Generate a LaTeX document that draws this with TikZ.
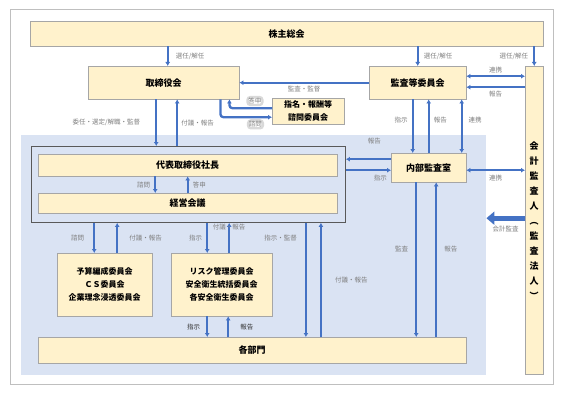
\documentclass[tikz,border=0pt]{standalone}
\usepackage{fontspec}
\setmainfont{Noto Sans CJK JP}
\usepackage{xcolor}
\usetikzlibrary{arrows.meta, calc}
\definecolor{boxfill}{HTML}{FFF2CC}
\definecolor{boxline}{HTML}{A6A6A6}
\definecolor{bluearea}{HTML}{DAE3F3}
\definecolor{arrowblue}{HTML}{4472C4}
\definecolor{labelgray}{HTML}{7F7F7F}

\begin{document}
\begin{tikzpicture}[x = 1pt, y = -1pt]
  \tikzset{>={Latex[length=4pt, width=5pt]},
    box/.style = {draw = boxline, fill = boxfill, anchor = north west, inner sep = 0pt, align = center, font = \fontsize{9}{13}\selectfont\bfseries},
    cbox/.style = {box, font = \fontsize{8}{13}\selectfont\bfseries},
    arr/.style = {->, draw = arrowblue, line width = 2.3pt},
    dbl/.style = {<->, draw = arrowblue, line width = 1.8pt},
    lbl/.style = {text = labelgray, inner sep = 1pt, font = \fontsize{6.5}{8}\selectfont},
    dlbl/.style = {lbl, text = black!80}
  }
  \useasboundingbox (0,0) rectangle (565,396);
  \draw[gray!50, line width = 1pt] (10,10) rectangle (553,384);
  \node[fill = bluearea, anchor = north west, inner sep = 0pt, minimum width = 465, minimum height = 240] (area) at (21,135) {};
  \node[draw = black!65, line width = 0.9pt, anchor = north west, inner sep = 0pt, minimum width = 314, minimum height = 76] (frame) at (31,146) {};

  \node[box, minimum width = 513, minimum height = 25] (kabu) at (30,21) {株主総会};
  \node[box, minimum width = 151, minimum height = 33] (tori) at (88,66) {取締役会};
  \node[box, minimum width = 97, minimum height = 33] (kansa) at (369,66) {監査等委員会};
  \node[cbox, minimum width = 72, minimum height = 26] (shimei) at (272,98) {指名・報酬等\\諮問委員会};
  \node[box, minimum width = 18, minimum height = 308, font = \fontsize{9}{15}\selectfont\bfseries] (kaikei) at (525,66) {会\\計\\監\\査\\人\\︵\\監\\査\\法\\人\\︶};
  \node[box, minimum width = 299, minimum height = 22] (shacho) at (38,154) {代表取締役社長};
  \node[box, minimum width = 299, minimum height = 20] (keiei) at (38,193) {経営会議};
  \node[box, minimum width = 75, minimum height = 29] (naibu) at (391,153) {内部監査室};
  \node[cbox, minimum width = 95, minimum height = 63] (yosan) at (57,253) {予算編成委員会\\ＣＳ委員会\\企業理念浸透委員会};
  \node[cbox, minimum width = 101, minimum height = 63] (risk) at (171,253) {リスク管理委員会\\安全衛生統括委員会\\各安全衛生委員会};
  \node[box, minimum width = 428, minimum height = 26] (bumon) at (38,337) {各部門};

  % shareholders
  \draw[arr] ([xshift=4]tori.north |- kabu.south) -- ([xshift=4]tori.north) node[lbl, midway, right=6pt] (l1) {選任/解任};
  \draw[arr] (kansa.north |- kabu.south) -- (kansa.north) node[lbl, midway, right=4pt] (l2) {選任/解任};
  \draw[arr] (kaikei.north |- kabu.south) -- (kaikei.north) node[lbl, midway, left=4pt] (l3) {選任/解任};

  % audit committee
  \draw[arr] (kansa.west) -- (kansa.west -| tori.east) node[lbl, midway, below=1pt] (l4) {監査・監督};
  \draw[dbl] ([yshift=6.5]kansa.east) -- ([yshift=6.5]kansa.east -| kaikei.west) node[lbl, midway, above=1pt] (l5) {連携};
  \draw[arr] ([yshift=-4.5]kansa.east -| kaikei.west) -- ([yshift=-4.5]kansa.east) node[lbl, midway, below=2pt] (l6) {報告};
  \draw[arr] ([xshift=-16]naibu.north |- kansa.south) -- ([xshift=-16]naibu.north) node[lbl, pos=0.38, left=3pt] (l7) {指示};
  \draw[arr] (naibu.north) -- (naibu.north |- kansa.south) node[lbl, pos=0.62, right=3pt] (l8) {報告};
  \draw[dbl] ([xshift=33]naibu.north |- kansa.south) -- ([xshift=33]naibu.north) node[lbl, pos=0.38, right=5pt] (l9) {連携};

  % board
  \draw[arr, rounded corners = 3pt] ([yshift=3]shimei.west) -| ([xshift=-10]tori.south east) node[lbl, pos=0.2, above=2pt, draw = gray!30, fill = white] (l10) {答申};
  \draw[arr, rounded corners = 3pt] ([xshift=-19]tori.south east) |- ([yshift=-6]shimei.west) node[lbl, pos=0.84, below=2pt, draw = gray!30, fill = white] (l11) {諮問};
  \draw[arr] ([xshift=-7.5]tori.south) -- ([xshift=-7.5]tori.south |- frame.north) node[lbl, midway, left=14pt] (l12) {委任・選定/解職・監督};
  \draw[arr] ([xshift=13.5]tori.south |- frame.north) -- ([xshift=13.5]tori.south) node[lbl, midway, right=2pt] (l13) {付議・報告};
  \draw[arr] ([xshift=-32.5]shacho.south) -- ([xshift=-32.5]shacho.south |- keiei.north) node[lbl, midway, left=3pt] (l14) {諮問};
  \draw[arr] (keiei.north -| shacho.south) -- (shacho.south) node[lbl, midway, right=3pt] (l15) {答申};

  % internal audit
  \draw[arr] ([yshift=8.5]naibu.west) -- ([yshift=8.5]naibu.west -| frame.east) node[lbl, midway, above=13pt, xshift=6pt] (l16) {報告};
  \draw[arr] ([yshift=-2.5]naibu.west -| frame.east) -- ([yshift=-2.5]naibu.west) node[lbl, midway, below=3pt, xshift=12pt] (l17) {指示};
  \draw[dbl] ([yshift=-2.5]naibu.east) -- ([yshift=-2.5]naibu.east -| kaikei.west) node[lbl, midway, below=3pt] (l18) {連携};
  \draw[-{Triangle[length=8pt, width=13pt]}, draw = arrowblue, line width = 5pt] ([yshift=2]kaikei.west) -- ([yshift=2]kaikei.west -| area.east) node[lbl, midway, below=4pt] (l19) {会計監査};
  \draw[arr] ([xshift=-12.5]naibu.south) -- ([xshift=-12.5]naibu.south |- bumon.north) node[lbl, pos=0.43, left=6pt] (l20) {監査};
  \draw[arr] ([xshift=7.5]naibu.south |- bumon.north) -- ([xshift=7.5]naibu.south) node[lbl, pos=0.57, right=6pt] (l21) {報告};

  % committees and departments
  \draw[arr] ([xshift=-40]frame.south east) -- ([xshift=-40]frame.south east |- bumon.north) node[lbl, pos=0.13, left=7pt] (l22) {指示・監督};
  \draw[arr] ([xshift=-25]frame.south east |- bumon.north) -- ([xshift=-25]frame.south east) node[lbl, midway, right=12pt] (l23) {付議・報告};
  \draw[arr] ([xshift=-10.5]yosan.north |- frame.south) -- ([xshift=-10.5]yosan.north) node[lbl, midway, left=8pt] (l24) {諮問};
  \draw[arr] ([xshift=12.5]yosan.north) -- ([xshift=12.5]yosan.north |- frame.south) node[lbl, midway, right=10pt] (l25) {付議・報告};
  \draw[arr] ([xshift=-14.5]risk.north |- frame.south) -- ([xshift=-14.5]risk.north) node[lbl, midway, left=3pt] (l26) {指示};
  \draw[arr] ([xshift=7.5]risk.north) -- ([xshift=7.5]risk.north |- frame.south) node[lbl, pos=0.87] (l27) {付議・報告};
  \draw[arr] ([xshift=-14.5]risk.south) -- ([xshift=-14.5]risk.south |- bumon.north) node[dlbl, midway, left=5pt] (l28) {指示};
  \draw[arr] ([xshift=6.5]risk.south |- bumon.north) -- ([xshift=6.5]risk.south) node[dlbl, midway, right=10pt] (l29) {報告};
\end{tikzpicture}
\end{document}
